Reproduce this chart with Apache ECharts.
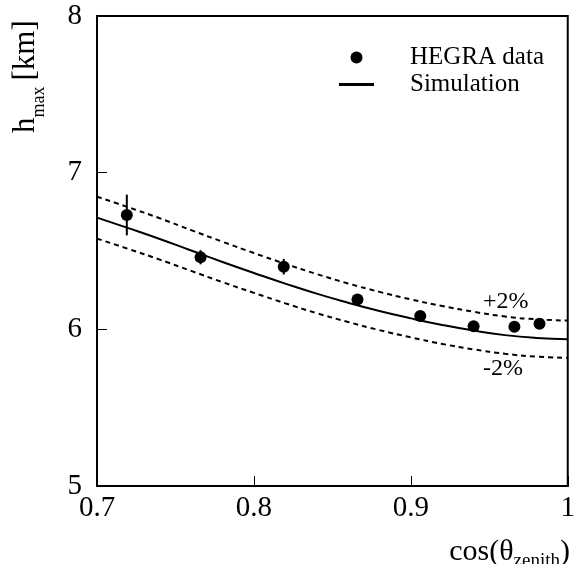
<!DOCTYPE html>
<html>
<head>
<meta charset="utf-8">
<script src="https://cdn.jsdelivr.net/npm/echarts@6/dist/echarts.min.js"></script>
<style>
html,body{margin:0;padding:0;background:#fff;}
#chart{width:578px;height:564px;}
</style>
</head>
<body>
<div id="chart"></div>
<script>
// ---- data ----
var dataCos   = [0.719, 0.766, 0.819, 0.866, 0.906, 0.940, 0.966, 0.982];
var dataHmax  = [6.73, 6.46, 6.40, 6.19, 6.085, 6.02, 6.017, 6.035];
var dataErr   = [0.13, 0.045, 0.05, 0.02, 0.02, 0.02, 0.02, 0.02];

var simCos    = [0.70, 0.72, 0.74, 0.76, 0.78, 0.80, 0.82, 0.84, 0.86, 0.88, 0.90, 0.92, 0.94, 0.96, 0.98, 1.00];
var simHmax   = [6.713, 6.646, 6.577, 6.503, 6.430, 6.360, 6.292, 6.228, 6.170, 6.117, 6.070, 6.028, 5.992, 5.963, 5.945, 5.937];
var simUpper  = [6.847, 6.779, 6.709, 6.633, 6.559, 6.487, 6.418, 6.353, 6.293, 6.239, 6.191, 6.149, 6.112, 6.082, 6.064, 6.056];
var simLower  = [6.579, 6.513, 6.445, 6.373, 6.301, 6.233, 6.166, 6.103, 6.047, 5.995, 5.949, 5.907, 5.872, 5.844, 5.826, 5.818];

var xTickLabels = ['0.7', '0.8', '0.9', '1'];
var yTickLabels = ['5', '6', '7', '8'];

var FONT = 'Liberation Serif';

function pairs(xs, ys) { return xs.map(function (x, i) { return [x, ys[i]]; }); }
function triples(xs, ys, es) { return xs.map(function (x, i) { return [x, ys[i], es[i]]; }); }

var chart = echarts.init(document.getElementById('chart'), null, {renderer: 'canvas'});

var option = {
  animation: false,
  backgroundColor: '#fff',
  grid: {left: 97, right: 7, top: 16, bottom: 78, show: true, borderColor: '#000', borderWidth: 2, containLabel: false},
  xAxis: {
    type: 'value', min: 0.7, max: 1.0, interval: 0.1,
    axisLine: {show: true, lineStyle: {color: '#000', width: 2}},
    axisTick: {show: true, inside: true, length: 10, lineStyle: {color: '#000', width: 1}},
    splitLine: {show: false},
    axisLabel: {
      margin: 8, color: '#000', fontFamily: FONT, fontSize: 29,
      formatter: function (v) { var i = Math.round((v - 0.7) / 0.1); return xTickLabels[i] || ''; }
    }
  },
  yAxis: {
    type: 'value', min: 5, max: 8, interval: 1,
    axisLine: {show: true, lineStyle: {color: '#000', width: 2}},
    axisTick: {show: true, inside: true, length: 10, lineStyle: {color: '#000', width: 1}},
    splitLine: {show: false},
    axisLabel: {
      margin: 15, color: '#000', fontFamily: FONT, fontSize: 29,
      formatter: function (v) { var i = Math.round(v - 5); return yTickLabels[i] || ''; }
    }
  },
  legend: {
    data: [
      {name: 'HEGRA data', icon: 'circle'},
      {name: 'Simulation', icon: 'path://M0,0 L35,0 L35,3 L0,3 Z'}
    ],
    orient: 'vertical', left: 339, top: 45, padding: 0,
    itemWidth: 35, itemHeight: 12, itemGap: 2,
    textStyle: {fontFamily: FONT, fontSize: 25, color: '#000', padding: [0, 0, 0, 31], lineHeight: 25},
    selectedMode: false
  },
  series: [
    {
      name: 'Simulation +2%', type: 'line', data: pairs(simCos, simUpper), smooth: true, symbol: 'none',
      lineStyle: {color: '#000', width: 2, type: [5, 4]}, z: 2
    },
    {
      name: 'Simulation -2%', type: 'line', data: pairs(simCos, simLower), smooth: true, symbol: 'none',
      lineStyle: {color: '#000', width: 2, type: [5, 4]}, z: 2
    },
    {
      name: 'Simulation', type: 'line', data: pairs(simCos, simHmax), smooth: true, symbol: 'none',
      lineStyle: {color: '#000', width: 2}, itemStyle: {color: '#000'}, z: 3
    },
    {
      name: 'errors', type: 'custom', data: triples(dataCos, dataHmax, dataErr), z: 4,
      renderItem: function (params, api) {
        var x = api.value(0), y = api.value(1), e = api.value(2);
        var p1 = api.coord([x, y + e]), p2 = api.coord([x, y - e]);
        return {type: 'line', shape: {x1: p1[0], y1: p1[1], x2: p2[0], y2: p2[1]}, style: {stroke: '#000', lineWidth: 2}};
      }
    },
    {
      name: 'HEGRA data', type: 'scatter', data: pairs(dataCos, dataHmax), symbol: 'circle', symbolSize: 12,
      itemStyle: {color: '#000', opacity: 1}, z: 5
    }
  ],
  graphic: []
};

chart.setOption(option);

// axis titles and band labels as text
var ctx = document.createElement('canvas').getContext('2d');
function tw(s, size) { ctx.font = size + 'px "' + FONT + '"'; return ctx.measureText(s).width; }

var g = [];
// x title: cos(θ_zenith)
var xMain = 'cos(\u03b8', xSub = 'zenith', xEnd = ')';
var xs1 = 30, xs2 = 19;
var xRight = 570;
var wTotal = tw(xMain, xs1) + tw(xSub, xs2) + tw(xEnd, xs1);
var x0 = xRight - wTotal;
var base = 537;
g.push({type: 'text', x: x0, y: base, style: {text: xMain, font: xs1 + 'px "' + FONT + '"', fill: '#000', verticalAlign: 'top'}});
g.push({type: 'text', x: x0 + tw(xMain, xs1), y: base + 15, style: {text: xSub, font: xs2 + 'px "' + FONT + '"', fill: '#000', verticalAlign: 'top'}});
g.push({type: 'text', x: x0 + tw(xMain, xs1) + tw(xSub, xs2), y: base, style: {text: xEnd, font: xs1 + 'px "' + FONT + '"', fill: '#000', verticalAlign: 'top'}});

// y title: h_max [km], rotated
var ys1 = 31, ys2 = 18;
var yStart = 133; // bottom of rotated text
var ty = [];
ty.push({type: 'text', x: 0, y: 0, style: {text: 'h', font: ys1 + 'px "' + FONT + '"', fill: '#000', verticalAlign: 'bottom'}});
ty.push({type: 'text', x: tw('h', ys1), y: 7, style: {text: 'max', font: ys2 + 'px "' + FONT + '"', fill: '#000', verticalAlign: 'bottom'}});
ty.push({type: 'text', x: tw('h', ys1) + tw('max', ys2) + 6, y: 0, style: {text: '[km]', font: ys1 + 'px "' + FONT + '"', fill: '#000', verticalAlign: 'bottom'}});
g.push({type: 'group', x: 41, y: yStart, rotation: Math.PI / 2, children: ty});

// band labels
g.push({type: 'text', x: 483, y: 290, style: {text: '+2%', font: '24px "' + FONT + '"', fill: '#000', verticalAlign: 'top'}});
g.push({type: 'text', x: 483, y: 357, style: {text: '-2%', font: '24px "' + FONT + '"', fill: '#000', verticalAlign: 'top'}});

chart.setOption({graphic: g});
</script>
</body>
</html>
